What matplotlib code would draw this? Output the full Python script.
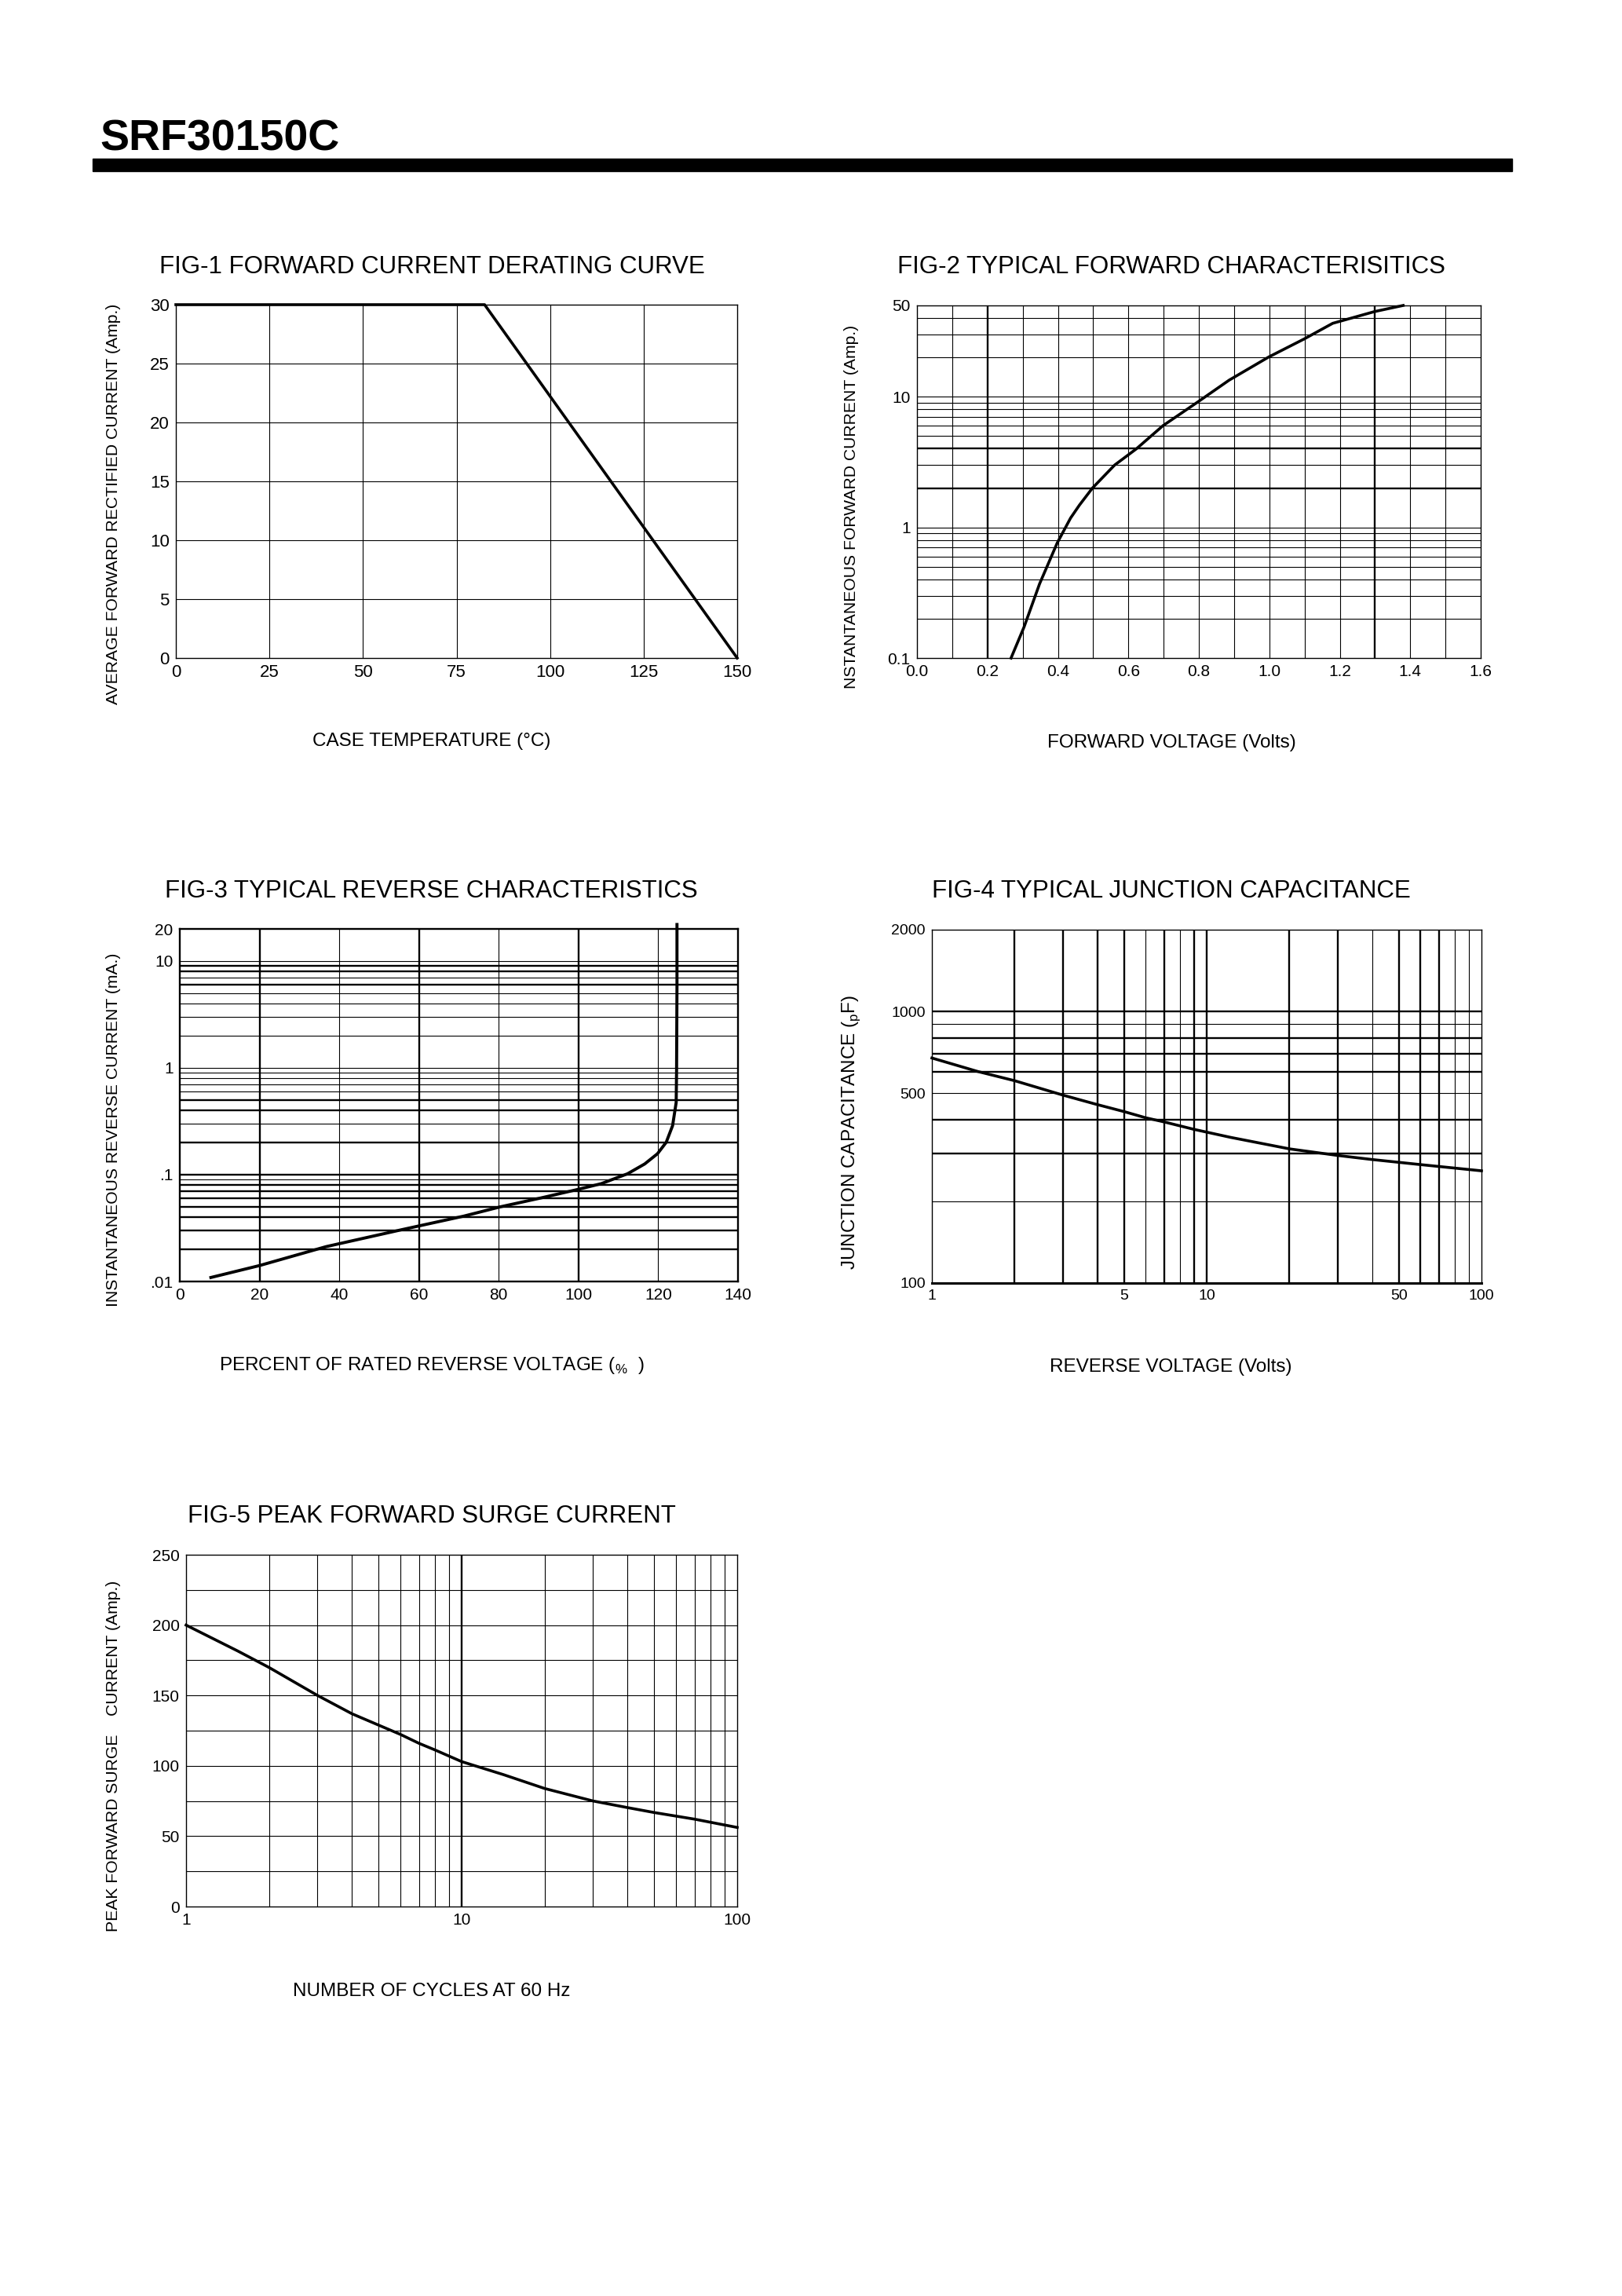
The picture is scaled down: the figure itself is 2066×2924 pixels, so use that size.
import matplotlib
matplotlib.use('Agg')
import matplotlib.pyplot as plt
from matplotlib.patches import Rectangle
from matplotlib.ticker import NullLocator

plt.rcParams['font.family'] = ['Liberation Sans', 'DejaVu Sans']

W, H = 2066, 2924

# FIG-1 forward current derating
derate_temp = [0, 82.5, 150]
derate_amp = [30, 30, 0]

# FIG-2 forward characteristics
fwd_volt = [0.267, 0.304, 0.348, 0.398, 0.436, 0.461, 0.498, 0.561, 0.623,
            0.698, 0.799, 0.886, 0.999, 1.099, 1.18, 1.299, 1.38]
fwd_amp = [0.1, 0.173, 0.37, 0.76, 1.18, 1.48, 2.0, 3.0, 4.0,
           6.0, 9.2, 13.4, 20.2, 27.7, 36.5, 44.9, 50]

# FIG-3 reverse characteristics
rev_pct = [7.8, 20, 36.7, 56.1, 71.2, 80.4, 90.7, 100, 105.7, 112.3,
           116.6, 119.8, 122, 123.6, 124.5, 124.6, 124.7, 124.7]
rev_ma = [0.0109, 0.0141, 0.0212, 0.0308, 0.0409, 0.05, 0.0607, 0.073, 0.0824,
          0.102, 0.126, 0.157, 0.201, 0.288, 0.475, 0.97, 5.8, 22]

# FIG-4 junction capacitance
cap_volt = [1, 1.47, 2, 3, 4, 5, 6, 7, 9, 12.2, 20, 30, 40, 60, 100]
cap_pf = [674, 601, 556, 492, 454, 428, 406, 392, 368, 344, 312, 295, 285, 273, 259]

# FIG-5 peak forward surge current
surge_cycles = [1, 1.54, 2, 3, 4, 5, 6, 7, 8, 10, 14.2, 20, 30, 40, 50, 70, 100]
surge_amp = [200, 181.6, 169.9, 150, 137, 128.9, 122.3, 116, 111.3, 103,
             93.7, 83.9, 75, 70.3, 66.8, 62.1, 56.2]

fig = plt.figure(figsize=(W / 100, H / 100), dpi=100)


def axes_px(x0, y0, x1, y1):
    return fig.add_axes([x0 / W, 1 - y1 / H, (x1 - x0) / W, (y1 - y0) / H])


def text_px(x, y, s, **kw):
    fig.text(x / W, 1 - y / H, s, **kw)


def grid(ax, xs, ys, thick_x=(), thick_y=()):
    for v in xs:
        ax.axvline(v, color='k', lw=1.7 if v in thick_x else 0.8, zorder=1)
    for v in ys:
        ax.axhline(v, color='k', lw=1.7 if v in thick_y else 0.8, zorder=1)


def style(ax, size, spine=1.0):
    ax.tick_params(length=0, labelsize=size, pad=6)
    ax.xaxis.set_minor_locator(NullLocator())
    ax.yaxis.set_minor_locator(NullLocator())
    for s in ax.spines.values():
        s.set_linewidth(spine)


# header
text_px(127, 192, 'SRF30150C', fontsize=40, fontweight='bold', va='baseline')
fig.add_artist(Rectangle((118 / W, 1 - 218 / H), (1926 - 118) / W, 16 / H,
                         transform=fig.transFigure, color='k'))

TITLE = 22.5
XLAB = 17.5
YLAB = 15.2

# FIG-1
ax1 = axes_px(224, 388, 939, 838)
ax1.set_xlim(0, 150)
ax1.set_ylim(0, 30)
grid(ax1, [25, 50, 75, 100, 125], [5, 10, 15, 20, 25])
ax1.plot(derate_temp, derate_amp, color='k', lw=2.6, clip_on=False, zorder=3)
ax1.set_xticks([0, 25, 50, 75, 100, 125, 150])
ax1.set_yticks([0, 5, 10, 15, 20, 25, 30])
style(ax1, 16)
text_px(550, 340, 'FIG-1 FORWARD CURRENT DERATING CURVE', fontsize=TITLE, ha='center', va='center')
text_px(550, 944, 'CASE TEMPERATURE (\u00b0C)', fontsize=XLAB, ha='center', va='center')
text_px(145, 642, 'AVERAGE FORWARD RECTIFIED CURRENT (Amp.)', fontsize=YLAB,
        rotation=90, ha='center', va='center')

# FIG-2
ax2 = axes_px(1168, 389, 1886, 838)
ax2.set_yscale('log')
ax2.set_xlim(0, 1.6)
ax2.set_ylim(0.1, 50)
grid(ax2, [0.1, 0.2, 0.3, 0.4, 0.5, 0.6, 0.7, 0.8, 0.9, 1.0, 1.1, 1.2, 1.3, 1.4, 1.5],
     [0.2, 0.3, 0.4, 0.5, 0.6, 0.7, 0.8, 0.9, 1, 2, 3, 4, 5, 6, 7, 8, 9, 10, 20, 30, 40],
     thick_x=[0.2, 1.3], thick_y=[2, 4])
ax2.plot(fwd_volt, fwd_amp, color='k', lw=2.6, clip_on=False, zorder=3)
ax2.set_xticks([0.0, 0.2, 0.4, 0.6, 0.8, 1.0, 1.2, 1.4, 1.6],
               ['0.0', '0.2', '0.4', '0.6', '0.8', '1.0', '1.2', '1.4', '1.6'])
ax2.set_yticks([0.1, 1, 10, 50], ['0.1', '1', '10', '50'])
style(ax2, 15)
text_px(1492, 340, 'FIG-2 TYPICAL FORWARD CHARACTERISITICS', fontsize=TITLE, ha='center', va='center')
text_px(1492, 946, 'FORWARD VOLTAGE (Volts)', fontsize=XLAB, ha='center', va='center')
text_px(1084, 645, 'NSTANTANEOUS FORWARD CURRENT (Amp.)', fontsize=YLAB,
        rotation=90, ha='center', va='center')

# FIG-3
ax3 = axes_px(229, 1183, 940, 1632)
ax3.set_yscale('log')
ax3.set_xlim(0, 140)
ax3.set_ylim(0.01, 20)
grid(ax3, [20, 40, 60, 80, 100, 120],
     [0.02, 0.03, 0.04, 0.05, 0.06, 0.07, 0.08, 0.09, 0.1,
      0.2, 0.3, 0.4, 0.5, 0.6, 0.7, 0.8, 0.9, 1,
      2, 3, 4, 5, 6, 7, 8, 9, 10],
     thick_x=[20, 60, 100],
     thick_y=[0.02, 0.03, 0.04, 0.05, 0.06, 0.07, 0.08, 0.1, 0.2, 0.4, 0.5, 6, 8, 9])
ax3.plot(rev_pct, rev_ma, color='k', lw=2.8, clip_on=False, zorder=3)
ax3.set_xticks([0, 20, 40, 60, 80, 100, 120, 140])
ax3.set_yticks([0.01, 0.1, 1, 10, 20], ['.01', '.1', '1', '10', '20'])
style(ax3, 15, spine=1.7)
text_px(549, 1135, 'FIG-3 TYPICAL REVERSE CHARACTERISTICS', fontsize=TITLE, ha='center', va='center')
text_px(550, 1739, r'PERCENT OF RATED REVERSE VOLTAGE ($_\mathregular{\%}$  )',
        fontsize=XLAB, ha='center', va='center')
text_px(145, 1439, 'INSTANTANEOUS REVERSE CURRENT (mA.)', fontsize=YLAB,
        rotation=90, ha='center', va='center')

# FIG-4
ax4 = axes_px(1187, 1184, 1887, 1634)
ax4.set_xscale('log')
ax4.set_yscale('log')
ax4.set_xlim(1, 100)
ax4.set_ylim(100, 2000)
grid(ax4, [2, 3, 4, 5, 6, 7, 8, 9, 10, 20, 30, 40, 50, 60, 70, 80, 90],
     [200, 300, 400, 500, 600, 700, 800, 900, 1000],
     thick_x=[2, 3, 4, 5, 7, 9, 10, 20, 30, 50, 60, 70],
     thick_y=[300, 400, 600, 700, 800, 1000])
ax4.plot(cap_volt, cap_pf, color='k', lw=2.6, clip_on=False, zorder=3)
ax4.set_xticks([1, 5, 10, 50, 100], ['1', '5', '10', '50', '100'])
ax4.set_yticks([100, 500, 1000, 2000], ['100', '500', '1000', '2000'])
style(ax4, 14)
ax4.spines['bottom'].set_linewidth(2.2)
text_px(1492, 1135, 'FIG-4 TYPICAL JUNCTION CAPACITANCE', fontsize=TITLE, ha='center', va='center')
text_px(1491, 1741, 'REVERSE VOLTAGE (Volts)', fontsize=XLAB, ha='center', va='center')
text_px(1084, 1442, r'JUNCTION CAPACITANCE ($_\mathregular{p}$F)', fontsize=17.5,
        rotation=90, ha='center', va='center')

# FIG-5
ax5 = axes_px(237, 1980, 939, 2428)
ax5.set_xscale('log')
ax5.set_xlim(1, 100)
ax5.set_ylim(0, 250)
grid(ax5, [2, 3, 4, 5, 6, 7, 8, 9, 10, 20, 30, 40, 50, 60, 70, 80, 90],
     [25, 50, 75, 100, 125, 150, 175, 200, 225], thick_x=[10])
ax5.plot(surge_cycles, surge_amp, color='k', lw=2.6, clip_on=False, zorder=3)
ax5.set_xticks([1, 10, 100], ['1', '10', '100'])
ax5.set_yticks([0, 50, 100, 150, 200, 250])
style(ax5, 15)
text_px(550, 1931, 'FIG-5 PEAK FORWARD SURGE CURRENT', fontsize=TITLE, ha='center', va='center')
text_px(550, 2536, 'NUMBER OF CYCLES AT 60 Hz', fontsize=XLAB, ha='center', va='center')
text_px(145, 2236, 'PEAK FORWARD SURGE    CURRENT (Amp.)', fontsize=YLAB,
        rotation=90, ha='center', va='center')

fig.savefig('out.png', dpi=100, facecolor='white')
